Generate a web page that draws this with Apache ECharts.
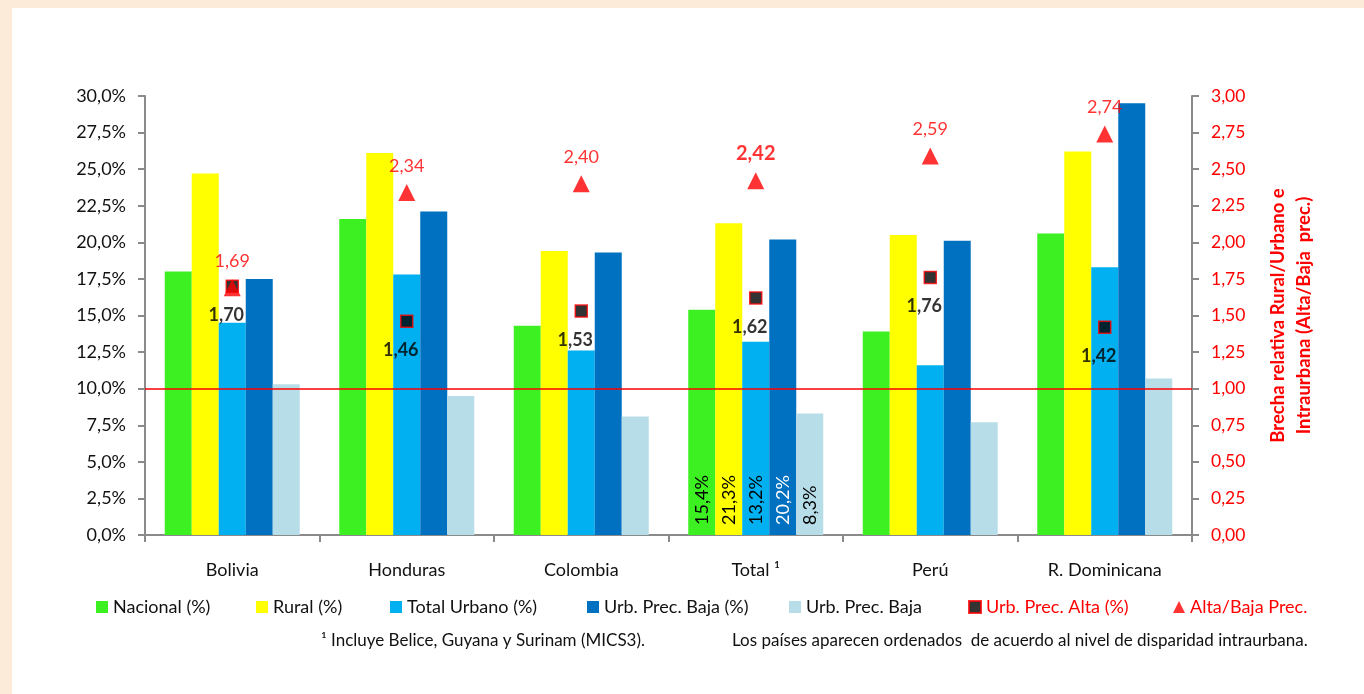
<!DOCTYPE html>
<html>
<head>
<meta charset="utf-8">
<script src="https://cdn.jsdelivr.net/npm/echarts@6/dist/echarts.min.js"></script>
<style>
  html, body { margin: 0; padding: 0; width: 1364px; height: 694px; overflow: hidden; background: #FDEBD9; }
  #panel { position: absolute; left: 12px; top: 8px; right: 0; bottom: 0; background: #ffffff; }
  #chart { position: absolute; left: 0; top: 0; width: 1364px; height: 694px; }
</style>
</head>
<body>
<div id="panel"></div>
<div id="chart"></div>
<script>
const categories = ['Bolivia', 'Honduras', 'Colombia', 'Total \u00b9', 'Perú', 'R. Dominicana'];
const nacional    = [18.0, 21.6, 14.3, 15.4, 13.9, 20.6];
const rural       = [24.7, 26.1, 19.4, 21.3, 20.5, 26.2];
const totalUrbano = [14.5, 17.8, 12.6, 13.2, 11.6, 18.3];
const urbBajaPct  = [17.5, 22.1, 19.3, 20.2, 20.1, 29.5];
const urbBaja     = [10.3, 9.5, 8.1, 8.3, 7.7, 10.7];
const urbAlta     = [1.70, 1.46, 1.53, 1.62, 1.76, 1.42];
const altaBaja    = [1.69, 2.34, 2.40, 2.42, 2.59, 2.74];
const seriesNames = ['Nacional (%)', 'Rural (%)', 'Total Urbano (%)', 'Urb. Prec. Baja (%)', 'Urb. Prec. Baja', 'Urb. Prec. Alta (%)', 'Alta/Baja Prec.'];
const footnote1 = '\u00b9 Incluye Belice, Guyana y Surinam (MICS3).';
const footnote2 = 'Los países aparecen ordenados  de acuerdo al nivel de disparidad intraurbana.';
const rightAxisName = 'Brecha relativa Rural/Urbano e\nIntraurbana (Alta/Baja  prec.)';
const highlightIndex = 3;

const FONT = 'Lato';
const colors = ['#3DF022', '#FFFF00', '#00B0F0', '#0070C0', '#B7DDE8'];
const labelColors = ['#000', '#000', '#000', '#fff', '#000'];
const legendLefts = [96, 256, 390, 587, 789, 968, 1173];

function pct(v) { return v.toFixed(1).replace('.', ',') + '%'; }
function dec2(v) { return v.toFixed(2).replace('.', ','); }

const barData = [nacional, rural, totalUrbano, urbBajaPct, urbBaja];
const barSeries = barData.map((arr, k) => ({
  name: seriesNames[k],
  type: 'bar',
  yAxisIndex: 0,
  barWidth: 27,
  barGap: '0%',
  itemStyle: { color: colors[k] },
  data: arr.map((v, i) => i === highlightIndex ? {
    value: v,
    label: {
      show: true, position: 'insideBottom', rotate: 90, distance: 10,
      align: 'left', verticalAlign: 'middle',
      formatter: p => pct(p.value),
      color: labelColors[k], fontFamily: FONT, fontSize: 18
    }
  } : v)
}));

const legends = seriesNames.map((n, i) => ({
  left: legendLefts[i], top: 598, padding: 0, itemWidth: 12, itemHeight: 12,
  textStyle: { fontFamily: FONT, fontSize: 18, color: i >= 5 ? '#FF0000' : '#111' },
  data: [{ name: n, icon: i === 6 ? 'triangle' : 'rect' }]
}));

const option = {
  backgroundColor: 'transparent',
  animation: false,
  textStyle: { fontFamily: FONT },
  grid: { left: 145, right: 172, top: 96, bottom: 159 },
  legend: legends,
  xAxis: {
    type: 'category',
    data: categories,
    axisLine: { lineStyle: { color: '#8a8a8a', width: 2 } },
    axisTick: { show: true, length: 7, lineStyle: { color: '#8a8a8a', width: 2 } },
    axisLabel: { color: '#111', fontFamily: FONT, fontSize: 18, margin: 26 }
  },
  yAxis: [
    {
      type: 'value', min: 0, max: 30, interval: 2.5,
      axisLine: { show: true, lineStyle: { color: '#8a8a8a', width: 2 } },
      axisTick: { show: true, length: 7, lineStyle: { color: '#8a8a8a', width: 2 } },
      splitLine: { show: false },
      axisLabel: { color: '#111', fontFamily: FONT, fontSize: 18, margin: 19, formatter: v => pct(v) }
    },
    {
      type: 'value', min: 0, max: 3, interval: 0.25, position: 'right',
      axisLine: { show: true, lineStyle: { color: '#8a8a8a', width: 2 } },
      axisTick: { show: true, length: 7, lineStyle: { color: '#8a8a8a', width: 2 } },
      splitLine: { show: false },
      axisLabel: { color: '#FF0000', fontFamily: FONT, fontSize: 17.5, margin: 19, formatter: v => dec2(v) },
      name: rightAxisName,
      nameLocation: 'middle',
      nameRotate: 90,
      nameGap: 73,
      nameTextStyle: { color: '#FF0000', fontFamily: FONT, fontSize: 18.5, fontWeight: 'bold', lineHeight: 26 }
    }
  ],
  series: barSeries.concat([
    {
      name: seriesNames[5],
      type: 'scatter',
      yAxisIndex: 1,
      symbol: 'rect',
      symbolSize: 12,
      itemStyle: { color: '#000', borderColor: '#FF0000', borderWidth: 1.5 },
      label: {
        show: true, position: 'bottom', distance: 13, offset: [-6, 0],
        color: '#000', fontWeight: 'bold', fontFamily: FONT, fontSize: 18,
        formatter: p => dec2(p.value)
      },
      data: urbAlta
    },
    {
      name: seriesNames[6],
      type: 'scatter',
      yAxisIndex: 1,
      symbol: 'triangle',
      symbolSize: 17,
      itemStyle: { color: '#FF0000' },
      label: {
        show: true, position: 'top', distance: 9,
        color: '#FF0000', fontFamily: FONT, fontSize: 18,
        formatter: p => dec2(p.value)
      },
      data: altaBaja.map((v, i) => i === highlightIndex ? {
        value: v,
        label: { fontWeight: 'bold', fontSize: 20 }
      } : v),
      markLine: {
        silent: true,
        symbol: 'none',
        label: { show: false },
        lineStyle: { color: '#FF0000', width: 1.5, type: 'solid' },
        data: [{ yAxis: 1 }]
      }
    }
  ]),
  graphic: [
    { type: 'text', left: 321, top: 632, style: { text: footnote1, fill: '#111', font: '17px ' + FONT } },
    { type: 'text', left: 732, top: 632, style: { text: footnote2, fill: '#111', font: '17px ' + FONT } }
  ]
};

const chart = echarts.init(document.getElementById('chart'), null, { renderer: 'canvas' });
chart.setOption(option);
</script>
</body>
</html>
